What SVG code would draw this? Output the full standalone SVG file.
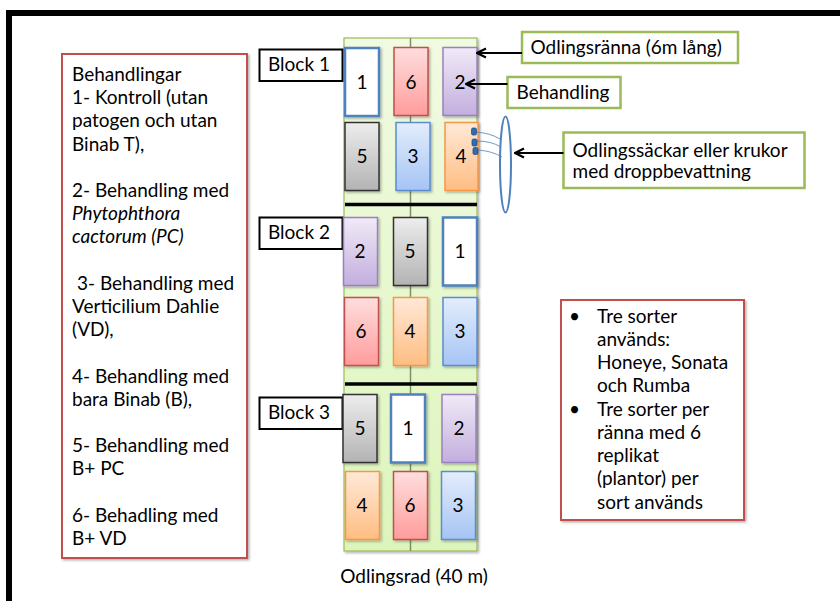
<svg xmlns="http://www.w3.org/2000/svg" width="840" height="601" viewBox="0 0 840 601">
<defs>
<style>
.t{font-family:Lato,"Liberation Sans",sans-serif;font-size:19px;fill:#000}
.n{font-family:Lato,"Liberation Sans",sans-serif;font-size:19px;fill:#000;text-anchor:middle}
.lbl{fill:#fff;stroke:#9BBB59;stroke-width:2.5}
.blk{fill:#fff;stroke:#000;stroke-width:2}
.red{fill:#fff;stroke:#C0504D;stroke-width:2}
.arr{stroke:#000;stroke-width:2.2;fill:none;marker-end:url(#ah)}
.c1{fill:#fff;stroke:#4F81BD;stroke-width:2.5}
.c2{fill:url(#gP);stroke:#9A80BE;stroke-width:1.5}
.c3{fill:url(#gB);stroke:#5B8CD0;stroke-width:1.5}
.c4{fill:url(#gO);stroke:#F79646;stroke-width:1.5}
.c5{fill:url(#gG);stroke:#333;stroke-width:1.5}
.c6{fill:url(#gR);stroke:#C0504D;stroke-width:1.5}
.sep{stroke:#000;stroke-width:3.5}
.tube{stroke:#4F81BD;stroke-width:1;fill:none;opacity:.8}
.drip{fill:#2F6BB3;stroke:#1F4E8C;stroke-width:.8}
</style>
<linearGradient id="gP" x1="0" y1="0" x2="0" y2="1"><stop offset="0" stop-color="#F0EAF7"/><stop offset="1" stop-color="#C3AEDE"/></linearGradient>
<linearGradient id="gB" x1="0" y1="0" x2="0" y2="1"><stop offset="0" stop-color="#E3EDFC"/><stop offset="1" stop-color="#A6C4F4"/></linearGradient>
<linearGradient id="gO" x1="0" y1="0" x2="0" y2="1"><stop offset="0" stop-color="#FFE9D8"/><stop offset="1" stop-color="#FFBD82"/></linearGradient>
<linearGradient id="gG" x1="0" y1="0" x2="0" y2="1"><stop offset="0" stop-color="#EDEDED"/><stop offset="1" stop-color="#B3B3B3"/></linearGradient>
<linearGradient id="gR" x1="0" y1="0" x2="0" y2="1"><stop offset="0" stop-color="#FFDEDE"/><stop offset="1" stop-color="#FF9C9C"/></linearGradient>
<linearGradient id="gF" x1="0" y1="0" x2="0" y2="1"><stop offset="0" stop-color="#F1FAE2"/><stop offset="1" stop-color="#DDF5BC"/></linearGradient>
<filter id="sh" x="-20%" y="-20%" width="150%" height="150%"><feDropShadow dx="1.5" dy="1.5" stdDeviation="1" flood-color="#000" flood-opacity="0.3"/></filter>
<marker id="ah" viewBox="0 0 12 12" refX="11" refY="6" markerWidth="12" markerHeight="12" markerUnits="userSpaceOnUse" orient="auto"><path d="M2,1.5 L11,6 L2,10.5" fill="none" stroke="#000" stroke-width="2.2"/></marker>
</defs>

<rect x="9" y="13" width="900" height="700" fill="none" stroke="#000" stroke-width="6"/>

<g id="field">
<rect x="344" y="38" width="133" height="513" fill="url(#gF)" stroke="#9BBB59" stroke-width="1.2" filter="url(#sh)"/>
<line x1="410.5" y1="38" x2="410.5" y2="551" stroke="#7F8F6A" stroke-width="1.5"/>
<line class="sep" x1="345" y1="204.5" x2="477" y2="204.5"/>
<line class="sep" x1="345" y1="384" x2="477" y2="384"/>
</g>

<g id="legend">
<rect class="red" x="62" y="54" width="185" height="504" filter="url(#sh)"/>
<text class="t" x="72" y="81">Behandlingar</text>
<text class="t" x="72" y="104.2">1- Kontroll (utan</text>
<text class="t" x="72" y="127.4">patogen och utan</text>
<text class="t" x="72" y="150.6">Binab T),</text>
<text class="t" x="72" y="197">2- Behandling med</text>
<text class="t" x="72" y="220.2" font-style="italic">Phytophthora</text>
<text class="t" x="72" y="243.4" font-style="italic">cactorum (PC)</text>
<text class="t" x="77" y="289.8">3- Behandling med</text>
<text class="t" x="72" y="313">Verticilium Dahlie</text>
<text class="t" x="72" y="336.2">(VD),</text>
<text class="t" x="72" y="382.6">4- Behandling med</text>
<text class="t" x="72" y="405.8">bara Binab (B),</text>
<text class="t" x="72" y="452.2">5- Behandling med</text>
<text class="t" x="72" y="475.4">B+ PC</text>
<text class="t" x="72" y="521.8">6- Behadling med</text>
<text class="t" x="72" y="545">B+ VD</text>
</g>

<g id="block1"><rect class="blk" x="259.5" y="49.5" width="83" height="31.5"/><text class="t" x="268" y="71">Block 1</text></g>
<g id="block2"><rect class="blk" x="259.5" y="217.5" width="83" height="31.5"/><text class="t" x="268" y="239">Block 2</text></g>
<g id="block3"><rect class="blk" x="259.5" y="397.5" width="83" height="31.5"/><text class="t" x="268" y="419">Block 3</text></g>

<g id="r1c1"><rect class="c1" x="345" y="48" width="34" height="68" filter="url(#sh)"/><text class="n" x="362" y="89">1</text></g>
<g id="r1c2"><rect class="c6" x="394" y="47.5" width="34" height="68" filter="url(#sh)"/><text class="n" x="411" y="89">6</text></g>
<g id="r1c3"><rect class="c2" x="443" y="47.5" width="34" height="68" filter="url(#sh)"/><text class="n" x="460" y="89">2</text></g>

<g id="r2c1"><rect class="c5" x="345" y="122.5" width="34" height="68" filter="url(#sh)"/><text class="n" x="362" y="163">5</text></g>
<g id="r2c2"><rect class="c3" x="396" y="122.5" width="34" height="68" filter="url(#sh)"/><text class="n" x="413" y="163">3</text></g>
<g id="r2c3"><rect class="c4" x="445" y="122.5" width="33" height="68" filter="url(#sh)"/><text class="n" x="461" y="163">4</text></g>

<g id="r3c1"><rect class="c2" x="343.5" y="217.5" width="34" height="68" filter="url(#sh)"/><text class="n" x="360" y="258">2</text></g>
<g id="r3c2"><rect class="c5" x="393.5" y="217.5" width="34" height="68" filter="url(#sh)"/><text class="n" x="410" y="258">5</text></g>
<g id="r3c3"><rect class="c1" x="443" y="217.5" width="34" height="68" filter="url(#sh)"/><text class="n" x="460" y="258">1</text></g>

<g id="r4c1"><rect class="c6" x="344.5" y="297.5" width="34" height="68" filter="url(#sh)"/><text class="n" x="361" y="338">6</text></g>
<g id="r4c2"><rect class="c4" x="393.5" y="297.5" width="34" height="68" filter="url(#sh)"/><text class="n" x="410" y="338">4</text></g>
<g id="r4c3"><rect class="c3" x="443" y="297.5" width="34" height="68" filter="url(#sh)"/><text class="n" x="460" y="338">3</text></g>

<g id="r5c1"><rect class="c5" x="343" y="394.5" width="34" height="68" filter="url(#sh)"/><text class="n" x="360" y="435">5</text></g>
<g id="r5c2"><rect class="c1" x="391" y="394.5" width="34" height="68" filter="url(#sh)"/><text class="n" x="408" y="435">1</text></g>
<g id="r5c3"><rect class="c2" x="442" y="394.5" width="34" height="68" filter="url(#sh)"/><text class="n" x="459" y="435">2</text></g>

<g id="r6c1"><rect class="c4" x="345.5" y="471.5" width="34" height="68" filter="url(#sh)"/><text class="n" x="362" y="512">4</text></g>
<g id="r6c2"><rect class="c6" x="393.5" y="471.5" width="34" height="68" filter="url(#sh)"/><text class="n" x="410" y="512">6</text></g>
<g id="r6c3"><rect class="c3" x="441.5" y="471.5" width="34" height="68" filter="url(#sh)"/><text class="n" x="458" y="512">3</text></g>

<g id="drip">
<path class="tube" d="M476,132 Q490,133 500,139"/>
<path class="tube" d="M477,141 Q491,141 501,147"/>
<path class="tube" d="M478,150 Q492,151 502,157"/>
<rect class="drip" x="471.5" y="128" width="5" height="7" rx="1.5"/>
<rect class="drip" x="472" y="139" width="5" height="7" rx="1.5"/>
<rect class="drip" x="473" y="147.5" width="5" height="7" rx="1.5"/>
<ellipse cx="505.5" cy="164.5" rx="5.5" ry="48" fill="none" stroke="#4F81BD" stroke-width="2"/>
</g>

<g id="lbl-ranna"><rect class="lbl" x="522" y="32" width="216" height="31"/><text class="t" x="530.5" y="54">Odlingsränna (6m lång)</text></g>
<g id="lbl-beh"><rect class="lbl" x="507.5" y="77" width="113" height="31"/><text class="t" x="516.5" y="98.5">Behandling</text></g>
<g id="lbl-sack"><rect class="lbl" x="563.5" y="132.5" width="241" height="55.5"/><text class="t" x="572.5" y="156.5">Odlingssäckar eller krukor</text><text class="t" x="572.5" y="178">med droppbevattning</text></g>

<g id="info">
<rect class="red" x="561" y="300" width="183" height="220" filter="url(#sh)"/>
<text class="t" x="569" y="322.5">•</text>
<text class="t" x="597" y="322.5">Tre sorter</text>
<text class="t" x="597" y="345.7">används:</text>
<text class="t" x="597" y="369">Honeye, Sonata</text>
<text class="t" x="597" y="392.2">och Rumba</text>
<text class="t" x="569" y="415.5">•</text>
<text class="t" x="597" y="415.5">Tre sorter per</text>
<text class="t" x="597" y="438.7">ränna med 6</text>
<text class="t" x="597" y="462">replikat</text>
<text class="t" x="597" y="485.2">(plantor) per</text>
<text class="t" x="597" y="508.5">sort används</text>
</g>

<g id="caption"><text class="n" x="414" y="583">Odlingsrad (40 m)</text></g>

<g id="connectors">
<line class="arr" x1="522" y1="53" x2="477" y2="53"/>
<line class="arr" x1="507.5" y1="84" x2="466" y2="84"/>
<line class="arr" x1="563.5" y1="153" x2="515" y2="153"/>
</g>
</svg>
